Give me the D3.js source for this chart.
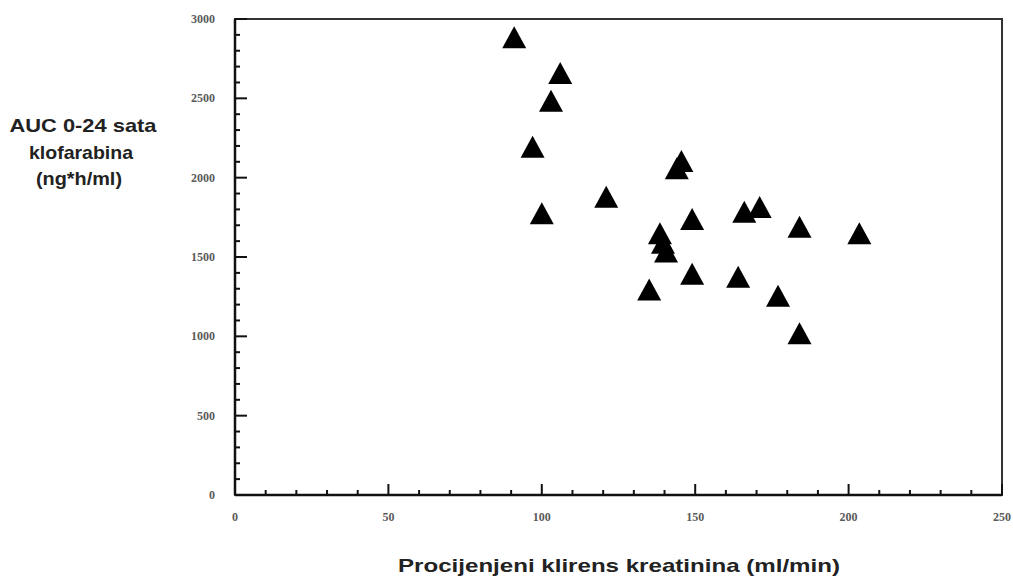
<!DOCTYPE html>
<html>
<head>
<meta charset="utf-8">
<script src="https://cdn.jsdelivr.net/npm/d3@7"></script>
<style>
  html, body { margin: 0; padding: 0; background: #fff; }
  svg { display: block; }
</style>
</head>
<body>
<svg id="chart" width="1013" height="577"></svg>
<script>
// ---- data ----
const clearance = [91, 106, 103, 97, 100, 121, 145.5, 144, 149, 138.5, 139.5, 140.5, 166, 171, 184, 203.5, 135, 149, 164, 177, 184];
const auc       = [2885, 2660, 2485, 2195, 1775, 1880, 2105, 2060, 1740, 1650, 1590, 1535, 1785, 1815, 1690, 1650, 1295, 1395, 1375, 1255, 1020];
const xTickLabels = [0, 50, 100, 150, 200, 250];
const yTickLabels = [0, 500, 1000, 1500, 2000, 2500, 3000];
const xTitle = "Procijenjeni klirens kreatinina (ml/min)";
const yTitleLines = ["AUC 0-24 sata", "klofarabina", "(ng*h/ml)"];

const svg = d3.select("#chart");
const x = d3.scaleLinear().domain([0, 250]).range([235, 1002]);
const y = d3.scaleLinear().domain([0, 3000]).range([495, 19]);

// frame (top & right)
svg.append("rect")
  .attr("x", x(0)).attr("y", y(3000))
  .attr("width", x(250) - x(0)).attr("height", y(0) - y(3000))
  .attr("fill", "none").attr("stroke", "#333").attr("stroke-width", 2);

// minor ticks
const xMinor = d3.range(0, 251, 10);
const yMinor = d3.range(0, 3001, 100);
svg.append("g").selectAll("line").data(xMinor).join("line")
  .attr("x1", d => x(d)).attr("x2", d => x(d))
  .attr("y1", y(0)).attr("y2", d => y(0) - (d % 50 === 0 ? 11 : 5))
  .attr("stroke", "#111").attr("stroke-width", 2);
svg.append("g").selectAll("line").data(yMinor).join("line")
  .attr("y1", d => y(d)).attr("y2", d => y(d))
  .attr("x1", x(0)).attr("x2", d => x(0) + (d % 500 === 0 ? 12 : 5))
  .attr("stroke", "#111").attr("stroke-width", 2);

// axis lines
svg.append("line").attr("x1", x(0)).attr("x2", x(250)).attr("y1", y(0)).attr("y2", y(0))
  .attr("stroke", "#111").attr("stroke-width", 2.5);
svg.append("line").attr("x1", x(0)).attr("x2", x(0)).attr("y1", y(0)).attr("y2", y(3000))
  .attr("stroke", "#111").attr("stroke-width", 2.5);

// tick labels
const tickFont = "'Liberation Serif', 'Times New Roman', serif";
svg.append("g").selectAll("text").data(xTickLabels).join("text")
  .attr("x", d => x(d)).attr("y", 521)
  .attr("text-anchor", "middle")
  .attr("font-family", tickFont).attr("font-size", 12).attr("font-weight", "bold")
  .attr("fill", "#5a5a5a")
  .text(d => d);
svg.append("g").selectAll("text").data(yTickLabels).join("text")
  .attr("x", 215).attr("y", d => y(d) + 4)
  .attr("text-anchor", "end")
  .attr("font-family", tickFont).attr("font-size", 12).attr("font-weight", "bold")
  .attr("fill", "#5a5a5a")
  .text(d => d);

// points
svg.append("g").selectAll("path").data(clearance.map((c, i) => [c, auc[i]])).join("path")
  .attr("d", "M0,-11L12,11L-12,11Z")
  .attr("transform", d => `translate(${x(d[0])},${y(d[1])})`)
  .attr("fill", "#000");

// titles
const titleFont = "'Liberation Sans', Arial, sans-serif";
svg.append("text")
  .attr("x", 619).attr("y", 572)
  .attr("text-anchor", "middle")
  .attr("font-family", titleFont).attr("font-size", 19).attr("font-weight", "bold")
  .attr("fill", "#222")
  .attr("textLength", 442).attr("lengthAdjust", "spacingAndGlyphs")
  .text(xTitle);

const yLens = [147, 104, 86];
const yCenters = [83, 81, 79];
svg.append("g").selectAll("text").data(yTitleLines).join("text")
  .attr("x", (d, i) => yCenters[i]).attr("y", (d, i) => 132 + i * 26.5)
  .attr("text-anchor", "middle")
  .attr("font-family", titleFont).attr("font-size", 19).attr("font-weight", "bold")
  .attr("fill", "#222")
  .attr("textLength", (d, i) => yLens[i]).attr("lengthAdjust", "spacingAndGlyphs")
  .text(d => d);
</script>
</body>
</html>
